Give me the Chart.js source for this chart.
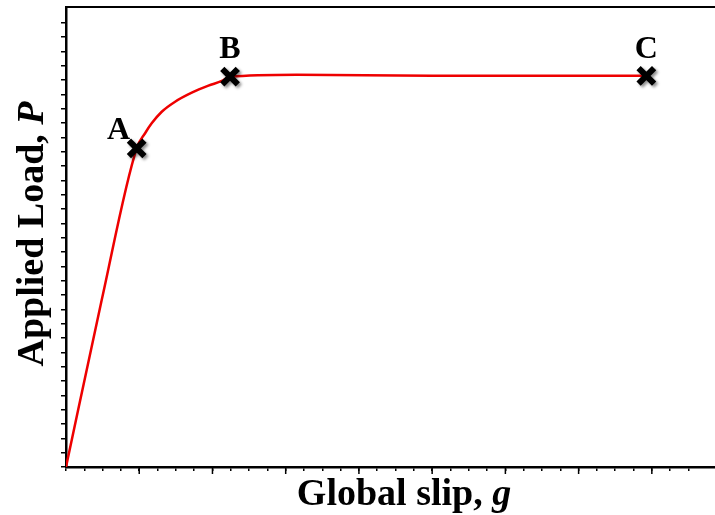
<!DOCTYPE html>
<html>
<head>
<meta charset="utf-8">
<title>Applied load vs global slip</title>
<script src="https://cdn.jsdelivr.net/npm/chart.js@4.4.0/dist/chart.umd.min.js"></script>
<style>
  body { margin: 0; background: #fff; }
  #wrap { width: 715px; height: 515px; }
</style>
</head>
<body>
<div id="wrap"><canvas id="slipChart" width="715" height="515"></canvas></div>
<script>
// load-slip curve (units = one minor tick)
const slip = [0, 1.95, 3.86, 4.32, 4.68, 5.23, 5.96, 6.87, 7.78, 8.51, 8.96, 12.6, 20, 31.7];
const load = [0, 11.65, 22.24, 23.29, 23.98, 24.79, 25.49, 26.12, 26.61, 26.94, 27.24, 27.38, 27.3, 27.3];

// the three marked stages
const pointNames = ['A', 'B', 'C'];
const pointSlip = [3.86, 8.96, 31.7];
const pointLoad = [22.24, 27.24, 27.3];

// axis ranges (no numbers shown on the axes)
const xMax = 35.45;
const yMax = 32.1;

const serif = '"Liberation Serif", "Times New Roman", serif';

// marker shadow, letters A/B/C, top frame line, axis titles
const decorPlugin = {
    id: 'decor',
    beforeDatasetDraw(chart, args) {
        if (args.index !== 0) return;
        const ctx = chart.ctx;
        ctx.save();
        ctx.shadowColor = 'rgba(0,0,0,0.45)';
        ctx.shadowBlur = 3;
        ctx.shadowOffsetX = 2;
        ctx.shadowOffsetY = 2;
    },
    afterDatasetDraw(chart, args) {
        if (args.index === 0) chart.ctx.restore();
    },
    afterDraw(chart) {
        const ctx = chart.ctx;
        const area = chart.chartArea;
        const xs = chart.scales.x;
        const ys = chart.scales.y;

        ctx.save();
        // top frame
        ctx.strokeStyle = '#000';
        ctx.lineWidth = 2;
        ctx.beginPath();
        ctx.moveTo(area.left, area.top);
        ctx.lineTo(area.right, area.top);
        ctx.stroke();

        // longer major ticks on the slip axis
        ctx.lineWidth = 1.5;
        for (let v = 4; v < xMax; v += 4) {
            const px = xs.getPixelForValue(v);
            ctx.beginPath();
            ctx.moveTo(px, area.bottom);
            ctx.lineTo(px, area.bottom + 7);
            ctx.stroke();
        }

        // stage letters
        const offsets = [[-18, -18], [0, -27], [0, -26]];
        ctx.fillStyle = '#000';
        ctx.font = 'bold 32px ' + serif;
        ctx.textAlign = 'center';
        ctx.textBaseline = 'middle';
        pointNames.forEach((name, i) => {
            const px = xs.getPixelForValue(pointSlip[i]);
            const py = ys.getPixelForValue(pointLoad[i]);
            ctx.fillText(name, px + offsets[i][0], py + offsets[i][1]);
        });

        // axis titles: bold text + bold italic symbol
        function mixedTitle(plain, symbol, cx, baseY) {
            ctx.font = 'bold 38px ' + serif;
            const w1 = ctx.measureText(plain).width;
            ctx.font = 'italic bold 38px ' + serif;
            const w2 = ctx.measureText(symbol).width;
            const start = cx - (w1 + w2) / 2;
            ctx.textAlign = 'left';
            ctx.textBaseline = 'alphabetic';
            ctx.font = 'bold 38px ' + serif;
            ctx.fillText(plain, start, baseY);
            ctx.font = 'italic bold 38px ' + serif;
            ctx.fillText(symbol, start + w1, baseY);
        }
        mixedTitle('Global slip, ', 'g', 404, 505);

        ctx.translate(43, 234);
        ctx.rotate(-Math.PI / 2);
        mixedTitle('Applied Load, ', 'P', 0, 0);
        ctx.restore();
    }
};

function onlyWholeTicks(scale) {
    scale.ticks = scale.ticks.filter(t => Number.isInteger(t.value));
}

function createSlipChart() {
    const ctx = document.getElementById('slipChart').getContext('2d');

    const markers = pointSlip.map((x, i) => ({ x: x, y: pointLoad[i] }));
    const curve = slip.map((x, i) => ({ x: x, y: load[i] }));

    new Chart(ctx, {
        type: 'line',
        data: {
            datasets: [{
                label: 'Stages',
                data: markers,
                showLine: false,
                pointStyle: 'crossRot',
                pointRadius: 11,
                pointBorderWidth: 6,
                pointBorderColor: '#000',
                pointBackgroundColor: '#000',
                clip: false
            }, {
                label: 'P-g curve',
                data: curve,
                borderColor: '#ee0000',
                borderWidth: 2.5,
                pointRadius: 0,
                cubicInterpolationMode: 'monotone',
                fill: false
            }]
        },
        options: {
            responsive: false,
            animation: false,
            devicePixelRatio: 1,
            layout: { autoPadding: false, padding: { top: 7, right: 0, left: 0, bottom: 0 } },
            plugins: {
                legend: { display: false },
                tooltip: { enabled: false }
            },
            scales: {
                x: {
                    type: 'linear',
                    min: 0,
                    max: xMax,
                    ticks: { stepSize: 1, display: false },
                    grid: { drawOnChartArea: false, tickLength: 4, color: '#000', lineWidth: 1.5 },
                    border: { color: '#000', width: 2.5 },
                    afterBuildTicks: onlyWholeTicks,
                    afterFit: s => { s.height = 48; }
                },
                y: {
                    type: 'linear',
                    min: 0,
                    max: yMax,
                    ticks: { stepSize: 1, display: false },
                    grid: { drawOnChartArea: false, tickLength: 5, color: '#000', lineWidth: 1.5 },
                    border: { color: '#000', width: 2.5 },
                    afterBuildTicks: onlyWholeTicks,
                    afterFit: s => { s.width = 66; }
                }
            }
        },
        plugins: [decorPlugin]
    });
}

document.addEventListener('DOMContentLoaded', createSlipChart);
</script>
</body>
</html>
